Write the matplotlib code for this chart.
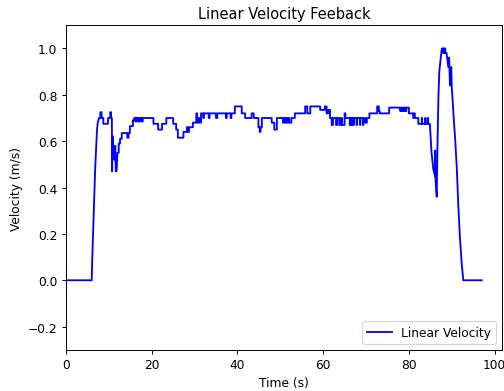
#!/usr/bin/env python3

import matplotlib
matplotlib.use('Agg')
import matplotlib.pyplot as plt

# ---------------- DATA ----------------
# (time in s, linear velocity in m/s)
time = [
    0.0, 6.0, 6.1, 6.8, 7.2, 7.4, 7.7, 8.0, 8.0, 8.3, 8.3, 8.7, 8.7, 9.8, 9.8,
    10.3, 10.3, 10.5, 10.5, 10.7, 10.75, 10.9, 11.0, 11.1, 11.3, 11.5, 11.6,
    11.8, 12.0, 12.3, 12.3, 12.6, 12.6, 13.0, 13.0, 14.3, 14.3, 14.6, 14.6,
    14.9, 14.9, 15.6, 15.6,
    15.9, 15.9, 16.2, 16.2, 16.4, 16.4, 16.7, 16.7, 16.9, 16.9, 17.2, 17.2,
    17.4, 17.4, 17.7, 17.7, 17.9, 17.9,
    20.4, 20.4, 21.5, 21.5, 22.4, 22.4, 23.4, 23.4, 25.0, 25.0, 25.7, 25.7,
    26.1, 26.1, 27.4, 27.4, 28.2, 28.2, 28.5, 28.5, 28.7, 28.7, 29.6, 29.6,
    30.4, 30.4, 30.6, 30.6, 31.0, 31.0, 31.3, 31.3, 31.5, 31.5, 32.0, 32.0,
    32.2, 32.2, 33.3, 33.3, 33.5, 33.5, 35.0, 35.0, 35.3, 35.3, 37.3, 37.3,
    37.5, 37.5, 38.4, 38.4, 38.6, 38.6, 39.4, 39.4, 41.0, 41.0, 41.8, 41.8,
    43.3, 43.3, 43.8, 43.8, 44.9, 44.9, 45.2, 45.2, 45.4, 45.4, 45.7, 45.7,
    48.0, 48.0, 48.6, 48.6, 49.2, 49.2, 50.6,
    50.6, 50.9, 50.9, 51.1, 51.1, 51.4, 51.4, 51.6, 51.6, 51.9, 51.9, 52.1,
    52.1, 52.6, 52.6,
    53.4, 53.4, 55.8, 55.8, 56.3, 56.3, 57.0, 57.0, 59.3, 59.3, 60.4, 60.4,
    60.8, 60.8, 61.2, 61.2, 61.6, 61.6, 62.0, 62.0, 62.3, 62.3, 63.0, 63.0,
    63.3, 63.3, 63.8, 63.8, 64.2, 64.2, 64.4, 64.4, 65.0, 65.0, 65.2, 65.2,
    66.2, 66.2, 66.4, 66.4, 66.6, 66.6, 66.8, 66.8, 67.0, 67.0, 67.2, 67.2,
    67.8, 67.8, 67.9, 67.9, 68.6, 68.6, 68.7, 68.7, 69.3, 69.3, 69.4, 69.4,
    69.8, 69.8, 70.2, 70.2, 70.8, 70.8, 72.6, 72.6, 73.0, 73.0, 73.2, 73.2,
    75.4, 75.4, 77.8,
    78.0, 78.2, 78.2, 78.5, 78.5, 78.8, 78.8, 79.1, 79.1, 79.4, 79.4,
    80.0, 80.0, 81.0, 81.0, 81.2, 81.2, 81.4, 81.4, 82.2, 82.2, 83.0, 83.0,
    83.1, 83.1, 83.8, 83.8, 83.9, 83.9, 84.4, 84.4, 84.5, 84.5, 84.9,
    85.3, 85.7, 86.1, 86.15, 86.2, 86.5, 86.7, 86.9, 87.1, 87.5, 87.7, 88.0,
    88.0, 88.2, 88.2, 88.5, 88.5, 88.8, 89.2, 89.4, 89.6, 89.9, 90.0, 90.4,
    90.8, 91.2, 91.5, 91.9, 92.3, 92.7, 97.0,
]

velocity = [
    0.0, 0.0, 0.08, 0.48, 0.64, 0.68, 0.70, 0.70, 0.725, 0.725, 0.70, 0.70,
    0.675, 0.675, 0.70,
    0.70, 0.725, 0.725, 0.70, 0.70, 0.47, 0.62, 0.55, 0.58, 0.52, 0.58, 0.47,
    0.47, 0.55, 0.55, 0.59, 0.59, 0.61, 0.61, 0.635, 0.635, 0.615, 0.615, 0.635,
    0.635, 0.665, 0.665, 0.69,
    0.69, 0.70, 0.70, 0.685, 0.685, 0.70, 0.70, 0.685, 0.685, 0.70, 0.70,
    0.685, 0.685, 0.70, 0.70, 0.685, 0.685, 0.70,
    0.70, 0.675, 0.675, 0.65, 0.65, 0.675, 0.675, 0.70, 0.70, 0.675, 0.675,
    0.65, 0.65, 0.615, 0.615, 0.64, 0.64, 0.66, 0.66, 0.64, 0.64, 0.66, 0.66,
    0.68, 0.68, 0.72, 0.72, 0.68, 0.68, 0.70, 0.70, 0.68, 0.68, 0.72, 0.72,
    0.70, 0.70, 0.72, 0.72, 0.70, 0.70, 0.72, 0.72, 0.70, 0.70, 0.72, 0.72,
    0.70, 0.70, 0.72, 0.72, 0.70, 0.70, 0.72, 0.72, 0.75, 0.75, 0.72, 0.72,
    0.70, 0.70, 0.72, 0.72, 0.70, 0.70, 0.66, 0.66, 0.64, 0.64, 0.66, 0.66,
    0.70, 0.70, 0.68, 0.68, 0.65, 0.65, 0.70, 0.70,
    0.68, 0.68, 0.70, 0.70, 0.68, 0.68, 0.70, 0.70, 0.68, 0.68, 0.70, 0.70,
    0.68, 0.68, 0.70,
    0.70, 0.72, 0.72, 0.75, 0.75, 0.72, 0.72, 0.75, 0.75, 0.735, 0.735, 0.75,
    0.75, 0.72, 0.72, 0.735, 0.735, 0.70, 0.70, 0.67, 0.67, 0.70, 0.70, 0.67,
    0.67, 0.70, 0.70, 0.67, 0.67, 0.70, 0.70, 0.67, 0.67, 0.72, 0.72, 0.70,
    0.70, 0.67, 0.67, 0.70, 0.70, 0.67, 0.67, 0.70, 0.70, 0.67, 0.67, 0.70,
    0.70, 0.67, 0.67, 0.70, 0.70, 0.67, 0.67, 0.70, 0.70, 0.67, 0.67, 0.70,
    0.70, 0.68, 0.68, 0.70, 0.70, 0.72, 0.72, 0.75, 0.75, 0.73, 0.73, 0.72,
    0.72, 0.745, 0.745,
    0.73, 0.73, 0.745, 0.745, 0.73, 0.73, 0.745, 0.745, 0.73, 0.73, 0.745,
    0.745, 0.72, 0.72, 0.70, 0.70, 0.72, 0.72, 0.70, 0.70, 0.675, 0.675, 0.70,
    0.70, 0.675, 0.675, 0.70, 0.70, 0.675, 0.675, 0.70, 0.70, 0.675, 0.675,
    0.55, 0.48, 0.45, 0.56, 0.44, 0.36, 0.60, 0.79, 0.90, 0.97, 1.0, 1.0,
    0.98, 0.98, 1.0, 1.0, 0.98, 0.98, 0.92, 0.96, 0.84, 0.92, 0.84, 0.72,
    0.61, 0.48, 0.34, 0.19, 0.08, 0.0, 0.0,
]


def create_graph():

    # ---------------- FIGURE ----------------
    dpi = 88
    fig = plt.figure(figsize=(504 / dpi, 392 / dpi), dpi=dpi)
    ax = fig.add_axes([0.131, 0.105, 0.866, 0.828])

    ax.plot(time, velocity, color='blue', label='Linear Velocity')

    ax.set_title('Linear Velocity Feeback')
    ax.set_xlabel('Time (s)')
    ax.set_ylabel('Velocity (m/s)')

    ax.set_ylim(-0.3, 1.1)
    ax.set_xlim(left=0)

    ax.legend(loc='lower right')

    # ---------------- SAVE ----------------
    fig.savefig('out.png', dpi=dpi)


if __name__ == '__main__':
    create_graph()
